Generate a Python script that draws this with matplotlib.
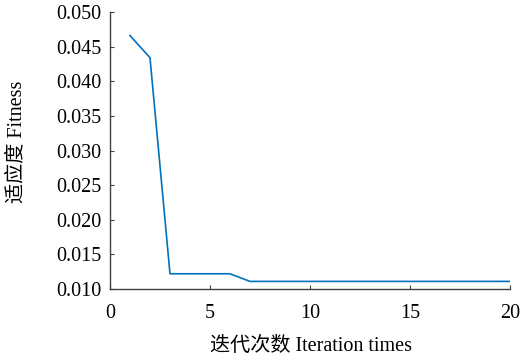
import matplotlib
matplotlib.use('Agg')
import matplotlib.pyplot as plt

# iteration number and best fitness at each iteration
iterations = list(range(1, 21))
fitness = [0.0466, 0.0434, 0.0122, 0.0122, 0.0122, 0.0122, 0.0111, 0.0111,
           0.0111, 0.0111, 0.0111, 0.0111, 0.0111, 0.0111, 0.0111, 0.0111,
           0.0111, 0.0111, 0.0111, 0.0111]

x_ticks = [0, 5, 10, 15, 20]
y_ticks = [0.010, 0.015, 0.020, 0.025, 0.030, 0.035, 0.040, 0.045, 0.050]

plt.rcParams['font.family'] = ['Liberation Serif', 'Noto Sans CJK SC']


def main():
    fig = plt.figure(figsize=(5.21, 3.58), dpi=100)
    ax = fig.add_axes([0.2111, 0.1927, 0.7678, 0.7738])

    ax.plot(iterations, fitness, color='#0072BD', linewidth=1.2)

    ax.set_xlim(0, 20)
    ax.set_ylim(0.010, 0.050)
    ax.set_xticks(x_ticks)
    ax.set_yticks(y_ticks)
    ax.set_yticklabels([f'{v:.3f}' for v in y_ticks])

    for side in ['top', 'right']:
        ax.spines[side].set_visible(False)
    for side in ['left', 'bottom']:
        ax.spines[side].set_color('#404040')
        ax.spines[side].set_linewidth(1.0)

    ax.tick_params(direction='in', length=3, width=0.8, color='#404040',
                   labelsize=14.5)
    ax.tick_params(axis='y', pad=6)
    ax.tick_params(axis='x', pad=11)

    ax.set_xlabel('迭代次数 Iteration times', fontsize=14.5, va='center')
    ax.set_ylabel('适应度 Fitness', fontsize=14.5, va='center')
    ax.xaxis.set_label_coords(0.5025, -0.209)
    ax.yaxis.set_label_coords(-0.234, 0.532)

    fig.savefig('out.png', dpi=100)


if __name__ == '__main__':
    main()
